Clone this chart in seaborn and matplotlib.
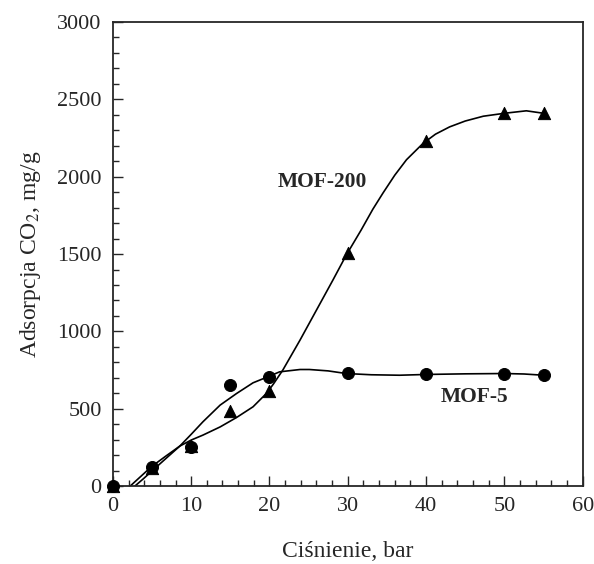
import matplotlib
matplotlib.use("Agg")
import matplotlib.pyplot as plt
import numpy as np
import pandas as pd
import seaborn as sns
from matplotlib.ticker import MultipleLocator

# measured points
pressure = [0, 5, 10, 15, 20, 30, 40, 50, 55]
mof5 = [0, 123, 255, 652, 703, 730, 725, 728, 717]
mof200 = [0, 120, 260, 485, 612, 1505, 2228, 2410, 2410]

# fitted curves
mof5_fit_x = [2.2, 3.5, 4.9, 6.7, 8.55, 10.0, 11.5, 13.7, 15.8, 17.9, 19.6, 21.3, 23.9, 25.1, 27.5, 29.8,
              33.0, 36.6, 40.0, 45.0, 50.0, 52.5, 55.0]
mof5_fit_y = [0, 60, 125, 192, 259, 335, 416, 524, 599, 668, 703, 739, 754, 754, 745, 728,
              720, 717, 722, 726, 728, 725, 717]
mof200_fit_x = [2.8, 3.9, 5.1, 6.8, 8.55, 10.0, 11.5, 13.7, 15.8, 17.9, 19.6, 20.5, 21.7, 23.9, 26.0, 28.1,
                29.8, 31.7, 33.2, 34.5, 36.0, 37.5, 39.6, 41.2, 43.0, 45.0, 47.3, 50.0, 52.8, 55.0]
mof200_fit_y = [0, 48, 103, 180, 259, 298, 330, 383, 444, 513, 599, 660, 750, 944, 1138, 1332,
                1493, 1655, 1790, 1895, 2010, 2110, 2215, 2275, 2322, 2360, 2391, 2410, 2426, 2410]

sns.set_style("ticks")
plt.rcParams['font.family'] = ['Liberation Serif', 'DejaVu Serif']
plt.rcParams['mathtext.fontset'] = 'stix'

fig = plt.figure(figsize=(5.94, 5.64), dpi=100)
ax = fig.add_axes([0.190, 0.138, 0.791, 0.823])

sns.lineplot(x=mof5_fit_x, y=mof5_fit_y, color="black", linewidth=1.2, ax=ax, sort=False)
sns.lineplot(x=mof200_fit_x, y=mof200_fit_y, color="black", linewidth=1.2, ax=ax, sort=False)
sns.scatterplot(x=pressure, y=mof200, marker="^", s=78, color="black", edgecolor="black", ax=ax, clip_on=False, zorder=3)
sns.scatterplot(x=pressure, y=mof5, marker="o", s=75, color="black", edgecolor="black", ax=ax, clip_on=False, zorder=4)

ax.text(26.8, 1965, "MOF-200", fontsize=15.5, fontweight="bold", ha="center", va="center")
ax.text(46.2, 575, "MOF-5", fontsize=15.5, fontweight="bold", ha="center", va="center")

ax.set_xlim(0, 60)
ax.set_ylim(0, 3000)
ax.xaxis.set_major_locator(MultipleLocator(10))
ax.xaxis.set_minor_locator(MultipleLocator(2))
ax.yaxis.set_major_locator(MultipleLocator(500))
ax.yaxis.set_minor_locator(MultipleLocator(100))
ax.tick_params(which="both", direction="in", top=False, right=False, labelsize=16, width=1, pad=8)
ax.tick_params(which="major", length=7)
ax.tick_params(which="minor", length=4)
for s in ax.spines.values():
    s.set_linewidth(1.3)
    s.set_visible(True)

ax.set_xlabel("Ciśnienie, bar", fontsize=17, labelpad=18)
ax.set_ylabel("Adsorpcja CO$_2$, mg/g", fontsize=17, labelpad=10)

fig.savefig("out.png", dpi=100)
